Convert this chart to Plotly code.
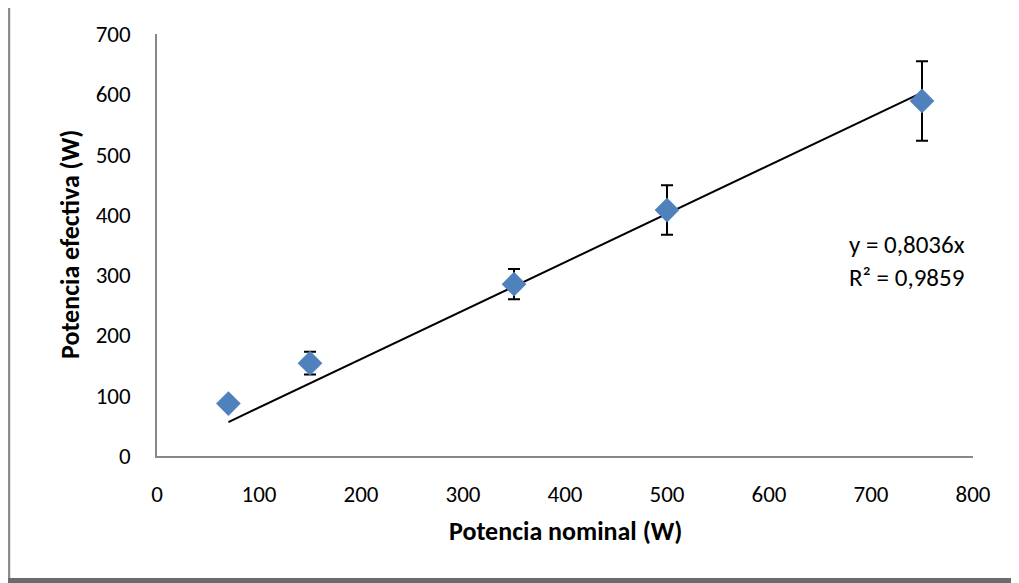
import plotly.graph_objects as go

nominal = [70, 150, 350, 500, 750]
efectiva = [87, 154, 285, 408, 589]
error = [0, 19, 25, 41, 66]
slope = [0.8036]
r2 = [0.9859]
x_ticks = [0, 100, 200, 300, 400, 500, 600, 700, 800]
y_ticks = [0, 100, 200, 300, 400, 500, 600, 700]

FONT = "Carlito, Calibri, Lato, sans-serif"

# figure is placed at (8, 8) in the window by the page body margin
W, H = 1011, 575
L, T, PW, PH = 149, 26, 816, 422


def px(fx):
    return (fx - L) / PW


def py(fy):
    return (T + PH - fy) / PH


fig = go.Figure()

trend_x = [min(nominal), max(nominal)]
trend_y = [slope[0] * v for v in trend_x]
fig.add_trace(go.Scatter(x=trend_x, y=trend_y, mode="lines",
                         line=dict(color="black", width=2), showlegend=False))

fig.add_trace(go.Scatter(
    x=nominal, y=efectiva, mode="markers",
    marker=dict(symbol="diamond", size=19, color="#4F81BD"),
    error_y=dict(type="data", array=error, visible=True, color="black",
                 thickness=2, width=6),
    showlegend=False))

eq_text = "y = " + f"{slope[0]:.4f}".replace(".", ",") + "x<br>R² = " + f"{r2[0]:.4f}".replace(".", ",")
fig.add_annotation(x=676, y=324, xref="x", yref="y", text=eq_text,
                   showarrow=False, xanchor="left", yanchor="middle", align="left",
                   font=dict(family=FONT, size=25, color="black"))

fig.add_annotation(x=0.5, y=py(523), xref="paper", yref="paper",
                   text="<b>Potencia nominal (W)</b>", showarrow=False,
                   xanchor="center", yanchor="middle",
                   font=dict(family=FONT, size=26, color="black"))
fig.add_annotation(x=px(62), y=0.5, xref="paper", yref="paper",
                   text="<b>Potencia efectiva (W)</b>", showarrow=False, textangle=-90,
                   xanchor="center", yanchor="middle",
                   font=dict(family=FONT, size=26, color="black"))

fig.update_xaxes(range=[0, 800], tickvals=x_ticks, showgrid=False, zeroline=False,
                 showline=True, linecolor="#878787", linewidth=1.5, ticks="",
                 ticklabelstandoff=17,
                 tickfont=dict(family=FONT, size=23, color="black"))
fig.update_yaxes(range=[0, 700], tickvals=y_ticks, showgrid=False, zeroline=False,
                 showline=True, linecolor="#878787", linewidth=1.5, ticks="",
                 ticklabelstandoff=20,
                 tickfont=dict(family=FONT, size=23, color="black"))

# frame: left border and dark bottom shadow band
fig.add_shape(type="line", xref="paper", yref="paper",
              x0=px(1), x1=px(1), y0=py(575), y1=py(0),
              line=dict(color="#8c8c8c", width=2.5))
fig.add_shape(type="rect", xref="paper", yref="paper",
              x0=px(0), x1=px(W), y0=py(575), y1=py(570),
              line=dict(width=0), fillcolor="#6b6b6b")

fig.update_layout(width=W, height=H, plot_bgcolor="white", paper_bgcolor="white",
                  margin=dict(l=L, r=W - L - PW, t=T, b=H - T - PH, autoexpand=False),
                  font=dict(family=FONT))

fig.write_html("out.html")
